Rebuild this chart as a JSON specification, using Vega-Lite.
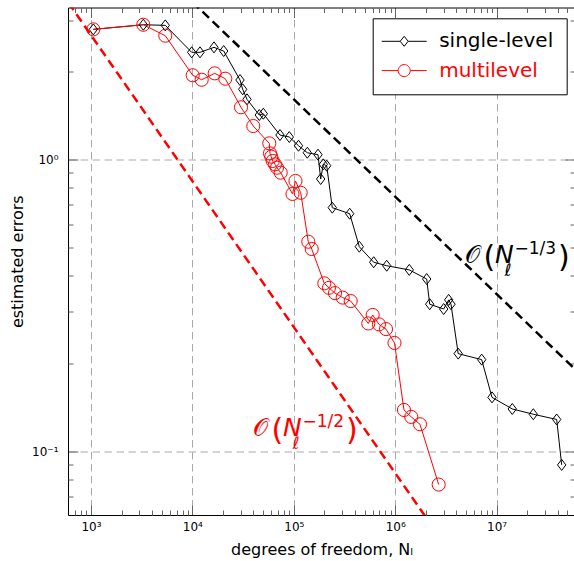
{
  "$schema": "https://vega.github.io/schema/vega-lite/v6.json",
  "width": 507,
  "height": 507.5,
  "autosize": {"type": "none"},
  "padding": {"left": 68, "top": 7.5, "right": 0, "bottom": 46},
  "background": "white",
  "config": {
    "font": "DejaVu Sans",
    "view": {"stroke": null},
    "axis": {
      "labelFont": "DejaVu Sans",
      "titleFont": "DejaVu Sans",
      "labelColor": "black",
      "titleColor": "black",
      "titleFontWeight": "normal",
      "tickColor": "#666666",
      "tickWidth": 1,
      "domainColor": "black",
      "domainWidth": 1
    }
  },
  "datasets": {
    "series": [
      {"series": "single-level", "dofs": 1054, "err": 2.787},
      {"series": "single-level", "dofs": 3280, "err": 2.890},
      {"series": "single-level", "dofs": 5403, "err": 2.876},
      {"series": "single-level", "dofs": 9842, "err": 2.325},
      {"series": "single-level", "dofs": 11885, "err": 2.325},
      {"series": "single-level", "dofs": 16330, "err": 2.418},
      {"series": "single-level", "dofs": 20350, "err": 2.349},
      {"series": "single-level", "dofs": 29480, "err": 1.869},
      {"series": "single-level", "dofs": 31330, "err": 1.737},
      {"series": "single-level", "dofs": 34550, "err": 1.605},
      {"series": "single-level", "dofs": 45680, "err": 1.418},
      {"series": "single-level", "dofs": 50030, "err": 1.433},
      {"series": "single-level", "dofs": 73100, "err": 1.211},
      {"series": "single-level", "dofs": 90300, "err": 1.192},
      {"series": "single-level", "dofs": 111300, "err": 1.113},
      {"series": "single-level", "dofs": 135900, "err": 1.053},
      {"series": "single-level", "dofs": 173300, "err": 1.037},
      {"series": "single-level", "dofs": 184200, "err": 0.856},
      {"series": "single-level", "dofs": 195400, "err": 0.961},
      {"series": "single-level", "dofs": 211100, "err": 0.951},
      {"series": "single-level", "dofs": 239700, "err": 0.683},
      {"series": "single-level", "dofs": 355900, "err": 0.651},
      {"series": "single-level", "dofs": 442600, "err": 0.502},
      {"series": "single-level", "dofs": 613800, "err": 0.444},
      {"series": "single-level", "dofs": 824800, "err": 0.432},
      {"series": "single-level", "dofs": 1377000, "err": 0.418},
      {"series": "single-level", "dofs": 2045000, "err": 0.389},
      {"series": "single-level", "dofs": 2189000, "err": 0.319},
      {"series": "single-level", "dofs": 3008000, "err": 0.307},
      {"series": "single-level", "dofs": 3370000, "err": 0.330},
      {"series": "single-level", "dofs": 3550000, "err": 0.319},
      {"series": "single-level", "dofs": 4181000, "err": 0.216},
      {"series": "single-level", "dofs": 7129000, "err": 0.206},
      {"series": "single-level", "dofs": 9008000, "err": 0.153},
      {"series": "single-level", "dofs": 14280000, "err": 0.1396},
      {"series": "single-level", "dofs": 23010000, "err": 0.1339},
      {"series": "single-level", "dofs": 39140000, "err": 0.1285},
      {"series": "single-level", "dofs": 43850000, "err": 0.0898},
      {"series": "multilevel", "dofs": 1054, "err": 2.787},
      {"series": "multilevel", "dofs": 3280, "err": 2.890},
      {"series": "multilevel", "dofs": 5403, "err": 2.651},
      {"series": "multilevel", "dofs": 10070, "err": 1.940},
      {"series": "multilevel", "dofs": 12350, "err": 1.873},
      {"series": "multilevel", "dofs": 16590, "err": 1.970},
      {"series": "multilevel", "dofs": 21110, "err": 1.888},
      {"series": "multilevel", "dofs": 30160, "err": 1.507},
      {"series": "multilevel", "dofs": 39870, "err": 1.300},
      {"series": "multilevel", "dofs": 57330, "err": 1.134},
      {"series": "multilevel", "dofs": 58250, "err": 1.048},
      {"series": "multilevel", "dofs": 59990, "err": 1.021},
      {"series": "multilevel", "dofs": 61930, "err": 0.987},
      {"series": "multilevel", "dofs": 65240, "err": 0.961},
      {"series": "multilevel", "dofs": 68290, "err": 0.936},
      {"series": "multilevel", "dofs": 74270, "err": 0.900},
      {"series": "multilevel", "dofs": 97100, "err": 0.761},
      {"series": "multilevel", "dofs": 103900, "err": 0.843},
      {"series": "multilevel", "dofs": 117000, "err": 0.768},
      {"series": "multilevel", "dofs": 139000, "err": 0.522},
      {"series": "multilevel", "dofs": 150200, "err": 0.493},
      {"series": "multilevel", "dofs": 199900, "err": 0.376},
      {"series": "multilevel", "dofs": 222400, "err": 0.363},
      {"series": "multilevel", "dofs": 254900, "err": 0.348},
      {"series": "multilevel", "dofs": 303500, "err": 0.336},
      {"series": "multilevel", "dofs": 364000, "err": 0.327},
      {"series": "multilevel", "dofs": 542800, "err": 0.274},
      {"series": "multilevel", "dofs": 599900, "err": 0.293},
      {"series": "multilevel", "dofs": 692100, "err": 0.272},
      {"series": "multilevel", "dofs": 811700, "err": 0.262},
      {"series": "multilevel", "dofs": 984200, "err": 0.235},
      {"series": "multilevel", "dofs": 1221000, "err": 0.1385},
      {"series": "multilevel", "dofs": 1441000, "err": 0.1311},
      {"series": "multilevel", "dofs": 1756000, "err": 0.1237},
      {"series": "multilevel", "dofs": 2685000, "err": 0.0769}
    ],
    "ref": [
      {"series": "single-level", "dofs": 10000, "err": 3.458},
      {"series": "single-level", "dofs": 100000000, "err": 0.1605},
      {"series": "multilevel", "dofs": 500, "err": 3.766},
      {"series": "multilevel", "dofs": 10000000, "err": 0.02663}
    ],
    "notes": [
      {"series": "single-level", "dofs": 4876000, "err": 0.4431, "exponent": "−1/3"},
      {"series": "multilevel", "dofs": 39590, "err": 0.1128, "exponent": "−1/2"}
    ]
  },
  "layer": [
    {
      "data": {"name": "series"},
      "mark": {"type": "line", "strokeWidth": 1},
      "encoding": {
        "x": {
          "field": "dofs", "type": "quantitative",
          "scale": {"type": "log", "domain": [593.3, 59330000], "nice": false, "zero": false},
          "axis": {
            "orient": "bottom",
            "values": [1000, 10000, 100000, 1000000, 10000000],
            "labelExpr": "datum.value == 1000 ? '10³' : datum.value == 10000 ? '10⁴' : datum.value == 100000 ? '10⁵' : datum.value == 1000000 ? '10⁶' : datum.value == 10000000 ? '10⁷' : ''",
            "labelFontSize": 12,
            "labelPadding": 16,
            "labelFlush": false,
            "tickSize": -10,
            "grid": true,
            "gridColor": "#aaaaaa",
            "gridDash": [7.5, 4.5],
            "gridWidth": 1,
            "domain": true,
            "title": "degrees of freedom, Nₗ",
            "titleFontSize": 16,
            "titlePadding": 9
          }
        },
        "y": {
          "field": "err", "type": "quantitative",
          "scale": {"type": "log", "domain": [0.06049, 3.311], "nice": false, "zero": false},
          "axis": {
            "orient": "left",
            "values": [0.1, 1],
            "labelExpr": "datum.value == 1 ? '10⁰' : datum.value == 0.1 ? '10⁻¹' : ''",
            "labelFontSize": 12,
            "labelPadding": 20,
            "tickSize": -10,
            "grid": true,
            "gridColor": "#aaaaaa",
            "gridDash": [7.5, 4.5],
            "gridWidth": 1,
            "domain": true,
            "title": "estimated errors",
            "titleFontSize": 16,
            "titlePadding": 6
          }
        },
        "color": {
          "field": "series", "type": "nominal",
          "scale": {"domain": ["single-level", "multilevel"], "range": ["black", "red"]},
          "legend": {
            "title": null,
            "orient": "none",
            "legendX": 304.7,
            "legendY": 10.8,
            "strokeColor": "black",
            "fillColor": "white",
            "padding": 13,
            "rowPadding": 9.3,
            "symbolSize": 361,
            "symbolOffset": 8.5,
            "symbolStrokeWidth": 1,
            "symbolFillColor": "transparent",
            "labelFontSize": 20,
            "labelFont": "DejaVu Sans",
            "labelOffset": 25,
            "labelLimit": 300,
            "encode": {
              "symbols": {
                "update": {
                  "shape": {"signal": "datum.value === 'multilevel' ? 'M-2.368,0L-0.632,0M0.632,0L2.368,0M-0.632,0A0.632,0.632,0,1,1,0.632,0A0.632,0.632,0,1,1,-0.632,0Z' : 'M-2.368,0L-0.421,0M0.421,0L2.368,0M0,-0.526L0.421,0L0,0.526L-0.421,0Z'"},
                  "fill": {"value": "transparent"},
                  "fillOpacity": {"value": 0},
                  "stroke": {"signal": "datum.value === 'multilevel' ? 'red' : 'black'"},
                  "strokeWidth": {"value": 1},
                  "size": {"value": 361}
                }
              },
              "labels": {
                "update": {
                  "fill": {"signal": "datum.value === 'multilevel' ? 'red' : 'black'"}
                }
              }
            }
          }
        }
      }
    },
    {
      "data": {"name": "series"},
      "mark": {"type": "point", "filled": false, "strokeWidth": 1, "opacity": 1},
      "encoding": {
        "x": {
          "field": "dofs", "type": "quantitative",
          "axis": {
            "orient": "bottom",
            "values": [600, 700, 800, 900, 2000, 3000, 4000, 5000, 6000, 7000, 8000, 9000, 20000, 30000, 40000, 50000, 60000, 70000, 80000, 90000, 200000, 300000, 400000, 500000, 600000, 700000, 800000, 900000, 2000000, 3000000, 4000000, 5000000, 6000000, 7000000, 8000000, 9000000, 20000000, 30000000, 40000000, 50000000],
            "labels": false, "grid": false, "domain": false, "tickSize": -5, "title": null
          }
        },
        "y": {
          "field": "err", "type": "quantitative",
          "axis": {
            "orient": "left",
            "values": [0.07, 0.08, 0.09, 0.2, 0.3, 0.4, 0.5, 0.6, 0.7, 0.8, 0.9, 2, 3],
            "labels": false, "grid": false, "domain": false, "tickSize": -5, "title": null
          }
        },
        "color": {"field": "series", "type": "nominal", "legend": null},
        "shape": {
          "field": "series", "type": "nominal",
          "scale": {"domain": ["single-level", "multilevel"], "range": ["M0,-1L0.76,0L0,1L-0.76,0Z", "circle"]},
          "legend": null
        },
        "size": {
          "field": "series", "type": "nominal",
          "scale": {"domain": ["single-level", "multilevel"], "range": [121, 172]},
          "legend": null
        }
      }
    },
    {
      "data": {"name": "ref"},
      "mark": {"type": "line", "strokeWidth": 2.5, "strokeDash": [9, 5], "clip": true},
      "encoding": {
        "x": {
          "field": "dofs", "type": "quantitative",
          "axis": {
            "orient": "top",
            "values": [1000, 10000, 100000, 1000000, 10000000],
            "labels": false, "grid": false, "domain": true, "tickSize": -10, "title": null
          }
        },
        "y": {
          "field": "err", "type": "quantitative",
          "axis": {
            "orient": "right",
            "values": [0.1, 1],
            "labels": false, "grid": false, "domain": true, "tickSize": -10, "title": null
          }
        },
        "color": {"field": "series", "type": "nominal", "legend": null}
      }
    },
    {
      "data": {"name": "notes"},
      "mark": {"type": "text", "align": "left", "baseline": "alphabetic", "fontSize": 24, "font": "DejaVu Sans"},
      "encoding": {
        "x": {
          "field": "dofs", "type": "quantitative",
          "axis": {
            "orient": "top",
            "values": [600, 700, 800, 900, 2000, 3000, 4000, 5000, 6000, 7000, 8000, 9000, 20000, 30000, 40000, 50000, 60000, 70000, 80000, 90000, 200000, 300000, 400000, 500000, 600000, 700000, 800000, 900000, 2000000, 3000000, 4000000, 5000000, 6000000, 7000000, 8000000, 9000000, 20000000, 30000000, 40000000, 50000000],
            "labels": false, "grid": false, "domain": false, "tickSize": -5, "title": null
          }
        },
        "y": {
          "field": "err", "type": "quantitative",
          "axis": {
            "orient": "right",
            "values": [0.07, 0.08, 0.09, 0.2, 0.3, 0.4, 0.5, 0.6, 0.7, 0.8, 0.9, 2, 3],
            "labels": false, "grid": false, "domain": false, "tickSize": -5, "title": null
          }
        },
        "color": {"field": "series", "type": "nominal", "legend": null},
        "text": {"value": "𝒪"}
      }
    },
    {
      "data": {"name": "notes"},
      "mark": {"type": "text", "align": "left", "baseline": "alphabetic", "fontSize": 30, "font": "DejaVu Sans", "dx": 18.5, "dy": 4},
      "encoding": {
        "x": {"field": "dofs", "type": "quantitative", "axis": null},
        "y": {"field": "err", "type": "quantitative", "axis": null},
        "color": {"field": "series", "type": "nominal", "legend": null},
        "text": {"value": "("}
      }
    },
    {
      "data": {"name": "notes"},
      "mark": {"type": "text", "align": "left", "baseline": "alphabetic", "fontSize": 25, "fontStyle": "italic", "font": "DejaVu Sans", "dx": 30},
      "encoding": {
        "x": {"field": "dofs", "type": "quantitative", "axis": null},
        "y": {"field": "err", "type": "quantitative", "axis": null},
        "color": {"field": "series", "type": "nominal", "legend": null},
        "text": {"value": "N"}
      }
    },
    {
      "data": {"name": "notes"},
      "mark": {"type": "text", "align": "left", "baseline": "alphabetic", "fontSize": 17, "fontStyle": "italic", "font": "DejaVu Sans", "dx": 39.5, "dy": 13},
      "encoding": {
        "x": {"field": "dofs", "type": "quantitative", "axis": null},
        "y": {"field": "err", "type": "quantitative", "axis": null},
        "color": {"field": "series", "type": "nominal", "legend": null},
        "text": {"value": "ℓ"}
      }
    },
    {
      "data": {"name": "notes"},
      "mark": {"type": "text", "align": "left", "baseline": "alphabetic", "fontSize": 17, "font": "DejaVu Sans", "dx": 49.5, "dy": -9},
      "encoding": {
        "x": {"field": "dofs", "type": "quantitative", "axis": null},
        "y": {"field": "err", "type": "quantitative", "axis": null},
        "color": {"field": "series", "type": "nominal", "legend": null},
        "text": {"field": "exponent"}
      }
    },
    {
      "data": {"name": "notes"},
      "mark": {"type": "text", "align": "left", "baseline": "alphabetic", "fontSize": 30, "font": "DejaVu Sans", "dx": 93, "dy": 4},
      "encoding": {
        "x": {"field": "dofs", "type": "quantitative", "axis": null},
        "y": {"field": "err", "type": "quantitative", "axis": null},
        "color": {"field": "series", "type": "nominal", "legend": null},
        "text": {"value": ")"}
      }
    }
  ],
  "resolve": {
    "axis": {"x": "independent", "y": "independent"},
    "legend": {"color": "independent"}
  }
}
